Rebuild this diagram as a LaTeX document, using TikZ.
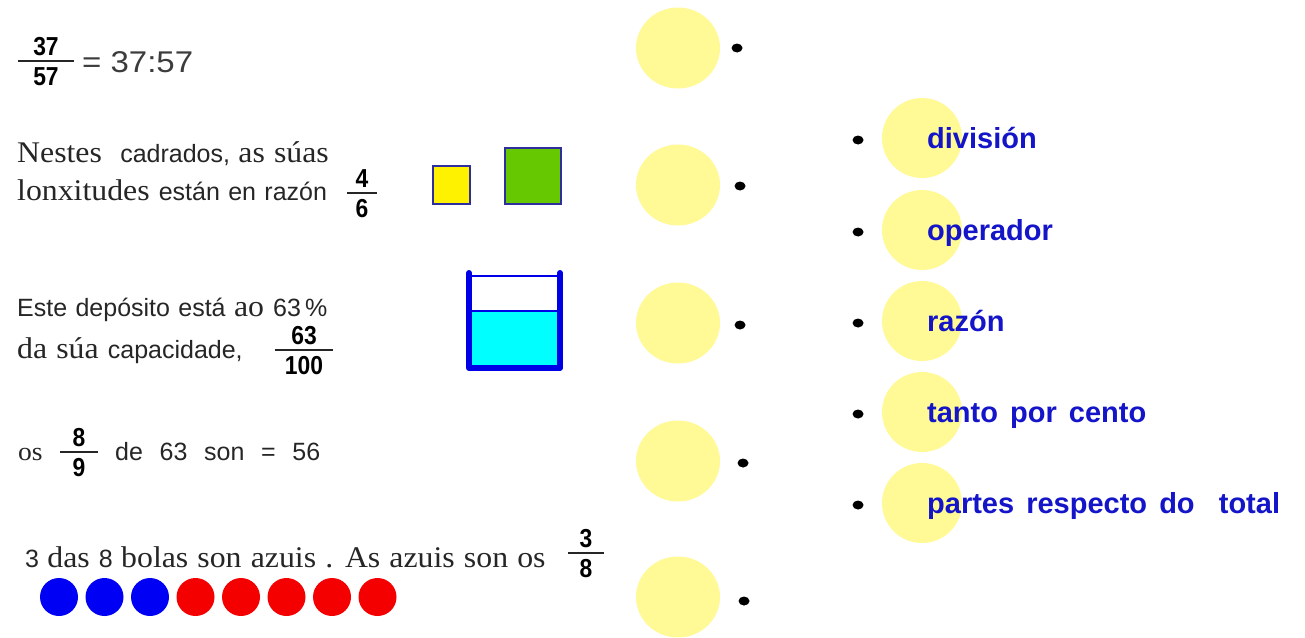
\documentclass[tikz,border=0pt]{standalone}
\usepackage{fontspec}
\setmainfont{Liberation Serif}[WordSpace=1.15,FakeStretch=1.06]
\setsansfont{Liberation Sans}[WordSpace=1.2]
\newfontfamily\fracfont{Liberation Sans}[FakeStretch=0.88]
\newfontfamily\eqfont{Liberation Sans}[FakeStretch=1.1]
\newfontfamily\answerfont{Liberation Sans}[WordSpace=1.5]
\usepackage{tikz}
\usetikzlibrary{shapes.geometric,positioning}

\definecolor{padyellow}{HTML}{FFFA96}
\definecolor{textgray}{HTML}{262626}
\definecolor{eqgray}{HTML}{3C3C3C}
\definecolor{answerblue}{HTML}{1414C8}
\definecolor{tankblue}{HTML}{0000E6}
\definecolor{water}{HTML}{00FFFF}
\definecolor{edgeblue}{HTML}{2E2E9E}
\definecolor{sqgreen}{HTML}{66C800}
\definecolor{ballblue}{HTML}{0000F5}
\definecolor{ballred}{HTML}{F50000}

\newcommand{\pxsize}[1]{\fontsize{#1}{#1}\selectfont}
\newcommand{\rmtxt}{\rmfamily\pxsize{30}}
\newcommand{\sftxt}{\sffamily\pxsize{25}}

% fraction: name, x, bar y, half bar, numerator, denominator
\newcommand{\fracnode}[6]{%
  \node[fracnum] (#1n) at (#2,#3) {#5};
  \node[fracden] (#1d) at (#2,#3) {#6};
  \draw[fracbar] (#2-#4,#3) -- (#2+#4,#3);
}

\tikzset{
  txt/.style={anchor=base west,inner sep=0pt,text=textgray,font=\sftxt},
  fracnum/.style={anchor=south,inner xsep=0pt,inner ysep=5pt,text=black,
                  font=\fracfont\bfseries\pxsize{26}},
  fracden/.style={anchor=north,inner xsep=0pt,inner ysep=6pt,text=black,
                  font=\fracfont\bfseries\pxsize{26}},
  fracbar/.style={line width=1.8pt,black!85},
  pad/.style={ellipse,fill=padyellow,minimum width=84pt,minimum height=81pt,inner sep=0pt},
  dot/.style={ellipse,fill=black,minimum width=11pt,minimum height=9pt,inner sep=0pt},
  ball/.style={circle,minimum size=38pt,inner sep=0pt},
  answer/.style={anchor=base west,inner sep=0pt,text=answerblue,
                 font=\answerfont\bfseries\pxsize{29}},
  square/.style={draw=edgeblue,line width=2pt},
  tankwall/.style={draw=tankblue,line width=6pt,line cap=round,line join=round},
}

\begin{document}
\begin{tikzpicture}[x=1pt,y=-1pt]
  \fill[white] (0,0) rectangle (1305,637);
  \useasboundingbox (0,0) rectangle (1305,637);

  %% left column
  \fracnode{fa}{46}{61}{28}{37}{57}
  \node[txt,text=eqgray,font=\eqfont\pxsize{30}] (eqa) at (82,72) {= 37:57};

  \node[txt] (sqa) at (17,162) {\rmtxt Nestes~~\sftxt cadrados, \rmtxt as súas};
  \node[txt] (sqb) at (17,200) {\rmtxt lonxitudes \sftxt están en razón};
  \fracnode{fb}{362}{193}{15}{4}{6}
  \draw[square,fill=yellow] (433,166) rectangle (470,204);
  \draw[square,fill=sqgreen] (505,148) rectangle (561,204);

  \node[txt] (tka) at (17,316) {Este depósito está \rmtxt ao \sftxt 63\,\%};
  \node[txt] (tkb) at (17,358) {\rmtxt da súa \sftxt capacidade,};
  \fracnode{fc}{304}{350}{29}{63}{100}
  % tank, filled to 63%
  \fill[water] (469,311) rectangle (560,368);
  \draw[tankblue,line width=1.5pt] (469,311) -- (560,311);
  \draw[tankblue,line width=1.2pt] (469,276) -- (560,276);
  \draw[tankwall] (469,273) -- (469,368) -- (560,368) -- (560,273);

  \node[txt,font=\rmfamily\pxsize{26}] (opa) at (18,460) {os};
  \fracnode{fd}{79}{452}{19}{8}{9}
  \node[txt] (opb) at (115,460) {de~~63~~son~~=~~56};

  \node[txt] (bla) at (25,567)
    {\sftxt 3 \rmtxt das~\sftxt 8 \rmtxt bolas son azuis . As azuis son os};
  \fracnode{fe}{586}{553}{18}{3}{8}
  \foreach \c [count=\i from 0] in {ballblue,ballblue,ballblue,ballred,ballred,ballred,ballred,ballred}
    \node[ball,fill=\c] (b\i) at ({59+45.5*\i},597) {};

  %% middle column: drop targets
  \foreach \y [count=\k] in {48,185,323,461,597}
    \node[pad] (p\k) at (678,\y) {};
  \foreach \x/\y [count=\k] in {737/48,740/186,740/325,743/463,744/601}
    \node[dot] (d\k) at (\x,\y) {};

  %% right column: answers
  \foreach \y/\t [count=\k] in {138/división,230/operador,321/razón,
                                 412/tanto por cento,503/partes respecto do~~total}{
    \node[pad,minimum width=80pt,minimum height=80pt] (q\k) at (922,\y) {};
    \node[dot] (e\k) at (858,\y+2) {};
    \node[answer] (a\k) at (927,\y+10) {\t};
  }
\end{tikzpicture}
\end{document}
